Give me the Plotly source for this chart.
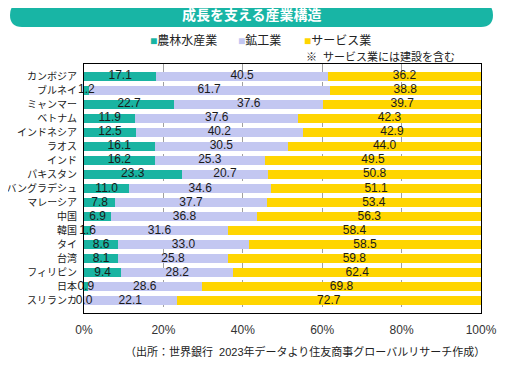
import plotly.graph_objects as go

countries = ["カンボジア", "ブルネイ", "ミャンマー", "ベトナム", "インドネシア", "ラオス", "インド",
             "パキスタン", "バングラデシュ", "マレーシア", "中国", "韓国", "タイ", "台湾",
             "フィリピン", "日本", "スリランカ"]
agri = [17.1, 1.2, 22.7, 11.9, 12.5, 16.1, 16.2, 23.3, 11.0, 7.8, 6.9, 1.6, 8.6, 8.1, 9.4, 0.9, 0.0]
ind = [40.5, 61.7, 37.6, 37.6, 40.2, 30.5, 25.3, 20.7, 34.6, 37.7, 36.8, 31.6, 33.0, 25.8, 28.2, 28.6, 22.1]
serv = [36.2, 38.8, 39.7, 42.3, 42.9, 44.0, 49.5, 50.8, 51.1, 53.4, 56.3, 58.4, 58.5, 59.8, 62.4, 69.8, 72.7]
series_names = ["農林水産業", "鉱工業", "サービス業"]
colors = ["#19B4A2", "#C3C7F1", "#FFD500"]
x_ticks = [0, 20, 40, 60, 80, 100]

FONT = "Liberation Sans, Arial, Noto Sans CJK JP"
OFF = 8  # page body margin
W, H = 506 - OFF, 365 - OFF
L, R, T, B = 84 - OFF, 25, 64 - OFF, 365 - 313
PW, PH = W - L - R, H - T - B


def px(x):
    return (x - OFF - L) / PW


def py(y):
    return (H - B - (y - OFF)) / PH


series = [agri, ind, serv]
totals = [sum(v) for v in zip(*series)]

fig = go.Figure()
for name, vals, col in zip(series_names, series, colors):
    fig.add_trace(go.Bar(
        y=countries, x=vals, name=name, orientation="h",
        marker=dict(color=col, line=dict(width=0)),
        hoverinfo="skip", showlegend=False,
    ))

# data labels drawn above all bars, centred in each (normalised) segment
base = [0.0] * len(countries)
for vals in series:
    pct = [v / t * 100 for v, t in zip(vals, totals)]
    centers = [b + p / 2 for b, p in zip(base, pct)]
    base = [b + p for b, p in zip(base, pct)]
    fig.add_trace(go.Scatter(
        x=centers, y=countries, mode="text", text=[f"{v:.1f}" for v in vals],
        textposition="middle center", cliponaxis=False,
        textfont=dict(family=FONT, size=12, color="#1a1a1a"),
        hoverinfo="skip", showlegend=False,
    ))

# rounded banner
x0, x1, y0, y1, r = 10, 493, 3, 27, 12
pts = (f"M {px(x0 + r)},{py(y0)} L {px(x1 - r)},{py(y0)} "
       f"Q {px(x1)},{py(y0)} {px(x1)},{py(y0 + r)} "
       f"Q {px(x1)},{py(y1)} {px(x1 - r)},{py(y1)} "
       f"L {px(x0 + r)},{py(y1)} "
       f"Q {px(x0)},{py(y1)} {px(x0)},{py(y0 + r)} "
       f"Q {px(x0)},{py(y0)} {px(x0 + r)},{py(y0)} Z")

legend_x = [148, 236, 302]
legend_ann = [
    dict(text=f"<span style='color:{c}'>■</span>{n}", xref="paper", yref="paper",
         x=px(lx), y=py(41), xanchor="left", yanchor="middle", showarrow=False,
         font=dict(size=12, color="#222222", family=FONT))
    for n, c, lx in zip(series_names, colors, legend_x)
]

fig.update_layout(
    width=W, height=H,
    margin=dict(l=L, r=R, t=T, b=B),
    paper_bgcolor="white", plot_bgcolor="white",
    barmode="stack", barnorm="percent", bargap=0.3,
    font=dict(family=FONT, size=12, color="#222222"),
    showlegend=False,
    xaxis=dict(range=[0, 100], tickvals=x_ticks, ticktext=[f"{v}%" for v in x_ticks],
               showgrid=True, automargin=False,
               gridcolor="#A0A0A0", griddash="dash", gridwidth=1,
               showline=True, linecolor="black", linewidth=1, mirror=True,
               zeroline=False, ticks="", ticklabelstandoff=6,
               tickfont=dict(size=12, color="#333333")),
    yaxis=dict(autorange="reversed", showline=True, linecolor="black", linewidth=1,
               mirror=True, ticks="", ticklabelstandoff=4, automargin=False,
               tickfont=dict(size=10, color="#1a1a1a")),
    shapes=[dict(type="path", xref="paper", yref="paper", path=pts,
                 fillcolor="#18B5A5", line=dict(width=0), layer="above")],
    annotations=[
        dict(text="<b>成長を支える産業構造</b>", xref="paper", yref="paper",
             x=px(252), y=py(15), xanchor="center", yanchor="middle", showarrow=False,
             font=dict(size=14, color="white", family=FONT)),
        dict(text="※  サービス業には建設を含む", xref="paper", yref="paper",
             x=px(457), y=py(57), xanchor="right", yanchor="middle", showarrow=False,
             font=dict(size=11, color="#222222", family=FONT)),
        dict(text="（出所：世界銀行  2023年データより住友商事グローバルリサーチ作成）",
             xref="paper", yref="paper",
             x=px(487), y=py(351), xanchor="right", yanchor="middle", showarrow=False,
             font=dict(size=11, color="#222222", family=FONT)),
    ] + legend_ann,
)

fig.write_html("out.html")
